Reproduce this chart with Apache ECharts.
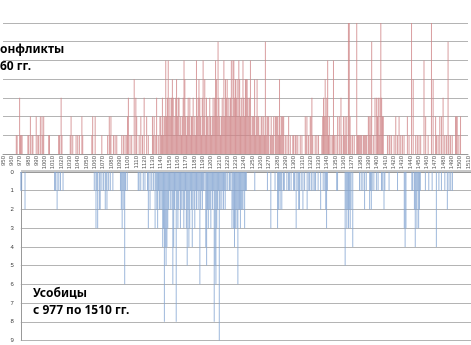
<!DOCTYPE html>
<html>
<head>
<meta charset="utf-8">
<script src="https://cdn.jsdelivr.net/npm/echarts@6/dist/echarts.min.js"></script>
<style>
html,body{margin:0;padding:0;background:#fff;}
#chart{width:471px;height:345px;}
</style>
</head>
<body>
<div id="chart"></div>
<script>
// Conflicts per year (top, red): [year, count]
const conflicts = [
[966,1],[967,1],[970,3],[971,1],[972,1],[973,1],
[980,1],[981,1],[983,2],[985,1],[986,1],[990,2],[992,1],[993,1],[995,2],[997,2],[998,1],[999,2],
[1005,1],[1006,1],
[1017,1],[1018,1],[1020,3],[1021,1],
[1031,1],[1032,2],[1034,1],
[1038,1],[1040,1],[1042,1],[1045,2],[1046,1],
[1057,1],[1058,2],[1061,2],
[1069,1],
[1076,1],[1078,2],[1079,1],[1080,2],[1083,1],[1085,1],[1087,1],
[1093,1],[1095,1],[1097,1],[1099,1],
[1100,2],[1101,3],[1103,1],[1105,1],[1108,4],[1110,3],[1111,2],
[1114,1],[1116,2],[1118,1],[1120,3],[1123,2],[1125,1],
[1130,2],[1131,1],[1132,2],[1134,1],[1135,3],[1137,1],
[1139,2],[1140,2],[1141,1],[1142,3],[1143,1],[1144,2],[1145,2],[1146,5],[1147,2],[1148,3],[1149,5],[1150,2],
[1151,3],[1152,2],[1153,3],[1154,4],[1155,3],[1156,1],[1157,2],[1158,3],[1159,4],[1160,2],
[1161,3],[1162,3],[1163,1],[1164,2],[1165,1],[1166,2],[1167,3],[1168,5],[1169,4],[1170,2],
[1171,1],[1172,2],[1173,3],[1174,2],[1175,3],[1176,1],[1177,2],[1178,2],[1179,3],[1180,1],
[1181,2],[1182,1],[1183,5],[1184,2],[1185,3],[1186,4],[1187,3],[1188,2],[1189,1],[1190,3],
[1191,5],[1192,2],[1193,4],[1194,1],[1195,3],[1196,2],[1197,2],[1198,1],[1199,3],[1200,2],
[1201,1],[1202,2],[1203,3],[1204,2],[1205,3],[1206,5],[1207,4],[1208,2],[1209,6],[1210,3],
[1211,2],[1212,1],[1213,2],[1214,3],[1215,2],[1216,5],[1217,2],[1218,4],[1219,3],[1220,4],
[1221,2],[1222,3],[1223,2],[1224,3],[1225,5],[1226,2],[1227,5],[1228,5],[1229,3],[1230,4],
[1231,3],[1232,4],[1233,2],[1234,5],[1235,4],[1236,2],[1237,3],[1238,2],[1239,5],[1240,3],
[1241,2],[1242,4],[1243,4],[1244,4],[1245,3],[1246,2],[1247,3],[1248,5],[1249,1],[1250,2],
[1251,2],[1252,2],[1253,4],[1254,1],[1255,2],[1256,4],[1257,2],[1258,2],[1259,1],[1260,1],
[1261,2],[1262,2],[1263,1],[1264,2],[1265,1],[1266,6],[1267,1],[1268,2],[1269,2],[1270,2],
[1272,1],[1273,2],[1274,1],[1275,1],[1276,2],[1278,2],[1279,2],[1280,2],
[1281,2],[1282,1],[1283,4],[1284,1],[1285,2],[1286,2],[1287,2],[1288,2],
[1290,1],[1292,1],[1294,2],[1296,1],
[1299,1],[1300,1],[1302,1],[1303,1],[1305,1],
[1308,1],[1310,1],[1314,2],[1315,1],[1316,2],[1318,1],[1320,2],[1321,2],[1322,3],[1323,1],
[1326,1],[1328,1],[1330,1],
[1334,1],[1335,2],[1336,3],[1337,2],[1338,4],[1339,2],[1340,3],[1341,5],[1342,1],[1343,2],[1345,1],[1347,1],[1348,5],[1349,1],
[1351,1],[1353,2],[1355,2],[1357,3],[1358,1],[1360,2],[1361,1],[1362,2],[1363,1],[1364,2],[1366,7],[1367,7],[1368,2],[1369,1],[1371,1],[1373,1],
[1376,7],[1377,1],[1378,1],[1379,1],[1380,1],[1381,1],[1382,1],[1384,1],[1385,1],[1386,1],[1387,1],[1388,1],
[1390,2],[1391,2],[1392,1],[1393,2],[1394,6],[1396,1],[1398,3],[1400,3],[1401,2],[1402,3],[1403,1],[1404,3],[1405,7],[1406,3],[1407,2],[1408,2],
[1413,1],[1415,1],[1416,1],[1418,1],
[1421,1],[1423,2],[1425,1],[1427,2],[1429,1],[1431,1],[1433,1],[1437,2],[1439,1],
[1442,7],[1444,4],[1447,1],[1449,1],[1451,1],[1453,1],
[1457,5],[1459,2],[1462,1],
[1466,7],[1468,4],[1471,2],[1472,1],[1474,1],[1476,2],[1478,2],[1480,3],[1482,1],[1484,1],[1486,6],[1487,1],[1489,1],[1491,1],
[1495,2],[1496,2],[1497,2],[1499,1],[1501,2]
];

// Internecine wars per year (bottom, blue): [year, count]
const strife = [
[977,1],[978,1],[982,2],
[1017,1],[1018,1],[1020,2],[1022,1],[1024,1],[1027,1],
[1064,1],[1066,3],[1067,1],[1068,3],[1070,2],[1071,2],[1073,1],[1075,1],[1077,2],[1078,1],[1079,2],[1081,1],[1083,1],[1086,1],
[1095,1],[1096,2],[1097,3],[1098,1],[1099,2],[1100,6],[1101,1],[1103,1],
[1116,1],[1117,1],[1119,1],[1122,1],[1124,1],[1127,1],[1128,3],[1130,2],[1132,1],[1134,1],
[1136,3],[1137,1],[1138,2],[1139,3],[1140,1],[1141,2],[1142,2],[1143,1],[1144,2],[1145,4],
[1146,3],[1147,8],[1148,4],[1149,5],[1150,4],[1151,3],[1152,2],[1153,1],[1154,2],[1155,1],
[1156,2],[1157,6],[1158,4],[1159,2],[1160,1],[1161,8],[1162,2],[1163,3],[1164,2],[1165,1],
[1166,3],[1167,2],[1168,1],[1169,2],[1170,3],[1171,2],[1172,1],[1173,3],[1174,5],[1175,2],
[1176,4],[1177,3],[1178,1],[1179,2],[1180,4],[1181,1],[1182,2],[1183,3],[1184,1],[1185,2],
[1186,1],[1187,2],[1188,1],[1189,6],[1190,2],[1191,1],[1192,2],[1193,1],[1194,1],[1196,4],
[1197,5],[1198,2],[1199,3],[1200,2],[1201,2],[1202,3],[1203,1],[1204,2],[1205,1],[1206,8],
[1207,5],[1208,6],[1209,3],[1210,2],[1211,1],[1212,9],[1213,2],[1214,1],[1215,2],[1216,1],
[1217,2],[1218,1],[1219,2],[1220,1],[1222,1],[1224,1],[1225,1],[1227,3],[1228,2],[1229,3],
[1230,4],[1231,3],[1232,2],[1233,3],[1234,6],[1235,2],[1236,2],[1237,3],[1238,2],[1239,2],
[1240,2],[1241,1],[1242,3],[1243,1],[1244,1],
[1254,1],[1269,1],[1273,3],[1278,1],[1281,3],[1282,2],[1283,1],[1284,2],[1285,1],[1286,2],[1288,1],[1289,1],
[1292,1],[1294,1],[1295,1],[1297,1],[1300,1],[1301,1],[1303,3],[1305,1],[1306,2],[1307,2],[1309,1],[1311,2],[1313,1],[1316,2],[1318,1],
[1319,1],[1321,1],[1323,1],[1325,1],[1326,1],[1329,1],[1332,2],[1335,1],[1337,1],[1338,2],[1339,3],[1340,1],
[1351,1],[1352,1],[1361,5],[1362,2],[1363,3],[1364,2],[1365,3],[1366,2],[1367,3],[1368,2],[1370,4],
[1378,1],[1380,1],[1382,1],[1384,2],[1386,1],[1390,2],[1391,1],[1392,2],[1393,1],[1395,1],[1398,1],[1400,1],[1404,1],[1405,1],[1407,2],[1408,1],
[1413,1],[1423,1],[1431,3],[1432,4],[1433,3],[1440,1],[1441,1],[1443,2],[1444,4],[1445,2],[1446,3],[1447,1],[1448,3],[1449,2],[1450,1],
[1456,1],[1460,1],[1464,1],[1469,4],[1472,1],[1475,1],[1479,1],[1482,2],[1484,1],[1486,1],[1488,1]
];

const yearMin = 950, yearMax = 1510, yearStep = 10;
const strifeStart = 977;
const topMax = 7, bottomMax = 9;
const topTextLines = ['онфликты', '60 гг.'];
const bottomTextLines = ['Усобицы', 'с 977 по 1510 гг.'];

const chart = echarts.init(document.getElementById('chart'), null, {renderer: 'canvas'});
const gridColor = '#b4b4b4';
const axisColor = '#999999';

chart.setOption({
  animation: false,
  backgroundColor: '#ffffff',
  grid: [
    {left: -2.35, right: -6.6, top: 23, bottom: 191, containLabel: false},
    {left: 20.8, right: -6.6, top: 172, bottom: 4.5, containLabel: false}
  ],
  xAxis: [
    {
      gridIndex: 0, type: 'value', min: yearMin, max: yearMax, interval: yearStep,
      axisLine: {show: true, lineStyle: {color: axisColor, width: 1}},
      axisTick: {show: false},
      splitLine: {show: false},
      axisLabel: {
        show: true, rotate: 90, fontSize: 6, color: '#555', margin: 2,
        fontFamily: 'Liberation Sans', showMinLabel: true, showMaxLabel: true,
        formatter: function (v) { return String(v); }
      }
    },
    {
      gridIndex: 1, type: 'value', position: 'top', min: strifeStart, max: yearMax, interval: 1,
      axisLine: {show: true, lineStyle: {color: axisColor, width: 1}},
      axisTick: {show: true, length: 2, lineStyle: {color: '#c8c8c8', width: 1}},
      splitLine: {show: false},
      axisLabel: {show: false}
    }
  ],
  yAxis: [
    {
      gridIndex: 0, type: 'value', min: 0, max: topMax, interval: 1,
      axisLine: {show: false}, axisTick: {show: false}, axisLabel: {show: false},
      splitLine: {show: true, lineStyle: {color: gridColor, width: 1}}
    },
    {
      gridIndex: 1, type: 'value', min: 0, max: bottomMax, interval: 1, inverse: true,
      axisLine: {show: true, lineStyle: {color: axisColor, width: 1}},
      axisTick: {show: false},
      axisLabel: {show: true, fontSize: 6, color: '#444', margin: 7, fontFamily: 'Liberation Sans'},
      splitLine: {show: true, lineStyle: {color: gridColor, width: 1}}
    }
  ],
  series: [
    {
      type: 'bar', xAxisIndex: 0, yAxisIndex: 0, data: conflicts,
      barWidth: 1, itemStyle: {color: '#d08688', opacity: 0.8}, z: 3
    },
    {
      type: 'bar', xAxisIndex: 1, yAxisIndex: 1, data: strife,
      barWidth: 1, itemStyle: {color: '#86a6d2', opacity: 0.8}, z: 3
    }
  ],
  graphic: [
    {type: 'text', left: 0, top: 44, z: 10, style: {text: topTextLines[0], font: 'bold 12px "Noto Sans"', fill: '#000'}},
    {type: 'text', left: 0, top: 61, z: 10, style: {text: topTextLines[1], font: 'bold 12px "Noto Sans"', fill: '#000'}},
    {type: 'text', left: 33, top: 288, z: 10, style: {text: bottomTextLines[0], font: 'bold 12px "Noto Sans"', fill: '#000'}},
    {type: 'text', left: 33, top: 304.5, z: 10, style: {text: bottomTextLines[1], font: 'bold 12px "Noto Sans"', fill: '#000'}}
  ]
});
</script>
</body>
</html>
